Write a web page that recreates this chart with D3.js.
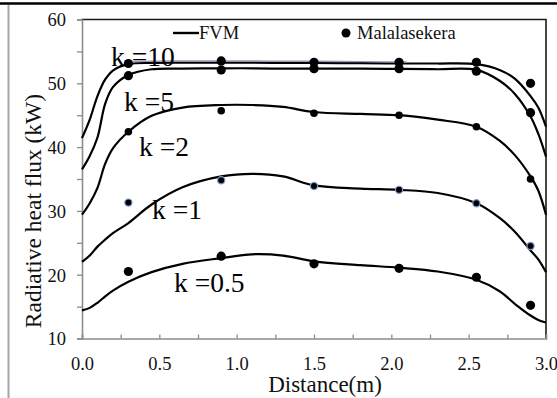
<!DOCTYPE html>
<html>
<head>
<meta charset="utf-8">
<script src="https://cdn.jsdelivr.net/npm/d3@7"></script>
<style>
  html, body { margin: 0; padding: 0; background: #fff; }
  svg { display: block; font-family: "Liberation Serif", "Times New Roman", serif; }
</style>
</head>
<body>
<svg id="chart" width="557" height="398"></svg>
<script>
// FVM curves, sampled on a shared distance grid (m)
const fvmX = [0, 0.05, 0.1, 0.15, 0.2, 0.3, 0.45, 0.65, 0.9, 1.1, 1.3, 1.5, 1.8, 2.05, 2.3, 2.55, 2.7, 2.8, 2.9, 2.95, 3.0];
const fvmK10 = [41.4, 44.3, 48.0, 50.6, 52.0, 53.0, 53.2, 53.25, 53.25, 53.25, 53.2, 53.2, 53.15, 53.1, 53.1, 53.0, 52.1, 50.7, 48.0, 46.2, 43.2];
const fvmK5 = [36.5, 38.6, 41.5, 46.8, 49.4, 51.3, 52.2, 52.3, 52.35, 52.35, 52.3, 52.3, 52.3, 52.25, 52.2, 52.1, 50.4, 48.3, 44.8, 42.1, 38.5];
const fvmK2 = [29.4, 31.2, 33.6, 37.4, 39.8, 42.4, 44.9, 46.2, 46.6, 46.6, 46.3, 45.5, 45.2, 45.0, 44.3, 43.2, 41.0, 38.7, 35.4, 33.2, 29.4];
const fvmK1 = [22.0, 23.0, 24.4, 25.5, 26.5, 28.1, 31.0, 33.7, 35.4, 35.8, 35.4, 34.0, 33.5, 33.3, 32.8, 31.2, 28.9, 26.7, 23.8, 22.4, 20.4];
const fvmK05 = [14.4, 14.8, 15.6, 16.6, 17.5, 18.9, 20.4, 21.7, 22.6, 23.2, 23.0, 22.1, 21.5, 21.1, 20.5, 19.2, 17.4, 15.4, 13.6, 12.9, 12.5];

// Malalasekera reference points
const malX = [0.3, 0.9, 1.5, 2.05, 2.55, 2.9];
const malK10 = [53.1, 53.5, 53.3, 53.3, 53.3, 50.0];
const malK5 = [51.2, 52.1, 52.3, 52.3, 51.9, 45.4];
const malK2 = [42.4, 45.7, 45.3, 45.0, 43.2, 35.0];
const malK1 = [31.3, 34.8, 33.9, 33.3, 31.2, 24.5];
const malK05 = [20.5, 22.9, 21.7, 21.0, 19.6, 15.2];

const kLabels = ['k =10', 'k =5', 'k =2', 'k =1', 'k =0.5'];
const xTicks = [0, 0.5, 1.0, 1.5, 2.0, 2.5, 3.0];
const yTicks = [10, 20, 30, 40, 50, 60];

const series = [
  { name: kLabels[0], fvm: fvmK10, mal: malK10, r: 4.6, dotStroke: 'none', lx: 111, ly: 66 },
  { name: kLabels[1], fvm: fvmK5, mal: malK5, r: 4.6, dotStroke: 'none', lx: 124, ly: 111 },
  { name: kLabels[2], fvm: fvmK2, mal: malK2, r: 3.8, dotStroke: 'none', lx: 139, ly: 156 },
  { name: kLabels[3], fvm: fvmK1, mal: malK1, r: 3.6, dotStroke: '#7f9ccc', lx: 152, ly: 219 },
  { name: kLabels[4], fvm: fvmK05, mal: malK05, r: 4.6, dotStroke: 'none', lx: 174, ly: 292 }
];

const svg = d3.select('#chart');
const margin = { left: 82, right: 11, top: 19.5, bottom: 59.5 };
const W = 557, H = 398;

const x = d3.scaleLinear().domain([0, 3]).range([margin.left, W - margin.right]);
const y = d3.scaleLinear().domain([10, 60]).range([H - margin.bottom, margin.top]);

// outer decorations of the figure
svg.append('line')
  .attr('x1', 0).attr('x2', W).attr('y1', 3.5).attr('y2', 3.5)
  .attr('stroke', '#000').attr('stroke-width', 2.5);
svg.append('line')
  .attr('x1', 8.5).attr('x2', 8.5).attr('y1', 5).attr('y2', H)
  .attr('stroke', '#a6a6a6').attr('stroke-width', 2);

// plot frame: top and right
svg.append('path')
  .attr('d', `M${x(0) - 1},${y(60)}H${x(3)}V${y(10)}`)
  .attr('fill', 'none').attr('stroke', '#1a1a1a').attr('stroke-width', 1.6);

// y axis
const yAxis = d3.axisLeft(y).tickValues(d3.range(10, 61, 5)).tickSize(5)
  .tickFormat(d => yTicks.includes(d) ? d : '');
const gy = svg.append('g').attr('transform', `translate(${x(0)},0)`).call(yAxis);
gy.select('.domain').attr('stroke', '#8c8c8c').attr('stroke-width', 1.6);
gy.selectAll('.tick line').attr('stroke', '#8c8c8c').attr('stroke-width', 1.3);
gy.selectAll('.tick text')
  .attr('x', -16).attr('dy', '0.35em')
  .attr('font-family', '"Liberation Serif", serif').attr('font-size', 18.5).attr('fill', '#111');

// x axis, ticks pointing inward
const xAxis = d3.axisBottom(x).tickValues(d3.range(0, 3.01, 0.25)).tickSize(-4)
  .tickFormat(d => xTicks.some(t => Math.abs(t - d) < 1e-9) ? d3.format('.1f')(d) : '');
const gx = svg.append('g').attr('transform', `translate(0,${y(10)})`).call(xAxis);
gx.select('.domain').attr('stroke', '#8c8c8c').attr('stroke-width', 1.6);
gx.selectAll('.tick line').attr('stroke', '#8c8c8c').attr('stroke-width', 1.3);
gx.selectAll('.tick text')
  .attr('y', 18).attr('dy', '0.71em')
  .attr('font-family', '"Liberation Serif", serif').attr('font-size', 18.5).attr('fill', '#111');

// axis titles
svg.append('text')
  .attr('transform', `translate(41,211) rotate(-90)`)
  .attr('text-anchor', 'middle').attr('font-size', 23.5).attr('fill', '#111')
  .text('Radiative heat flux (kW)');
svg.append('text')
  .attr('x', 325).attr('y', 392)
  .attr('text-anchor', 'middle').attr('font-size', 23).attr('fill', '#111')
  .text('Distance(m)');

// FVM lines
const line = d3.line()
  .x((d, i) => x(fvmX[i]))
  .y(d => y(d))
  .curve(d3.curveCatmullRom.alpha(0.5));

const gLines = svg.append('g');
series.forEach(s => {
  gLines.append('path')
    .attr('d', line(s.fvm))
    .attr('fill', 'none').attr('stroke', '#000').attr('stroke-width', 2.2);
});

// faint lavender trace along the flat part of k=10
gLines.append('clipPath').attr('id', 'flat')
  .append('rect').attr('x', x(0.3)).attr('y', 0).attr('width', x(2.1) - x(0.3)).attr('height', H);
gLines.append('path')
  .attr('d', line(fvmK10))
  .attr('transform', 'translate(0,-1.6)')
  .attr('clip-path', 'url(#flat)')
  .attr('fill', 'none').attr('stroke', '#9e92bd').attr('stroke-width', 1.4);

// Malalasekera points
const gDots = svg.append('g');
series.forEach(s => {
  gDots.selectAll(null)
    .data(s.mal)
    .enter().append('circle')
    .attr('cx', (d, i) => x(malX[i]))
    .attr('cy', d => y(d))
    .attr('r', s.r)
    .attr('fill', '#000')
    .attr('stroke', s.dotStroke)
    .attr('stroke-width', 1.2);
});

// k labels
svg.append('g').selectAll('text')
  .data(series)
  .enter().append('text')
  .attr('x', d => d.lx).attr('y', d => d.ly)
  .attr('font-size', 27.5).attr('fill', '#000')
  .text(d => d.name);

// legend
const lg = svg.append('g');
lg.append('line')
  .attr('x1', 173).attr('x2', 199).attr('y1', 33).attr('y2', 33)
  .attr('stroke', '#000').attr('stroke-width', 2.4);
lg.append('text').attr('x', 199).attr('y', 39)
  .attr('font-size', 18.5).attr('fill', '#111').text('FVM');
lg.append('circle').attr('cx', 346).attr('cy', 33).attr('r', 4.5).attr('fill', '#000');
lg.append('text').attr('x', 357).attr('y', 39)
  .attr('font-size', 18.5).attr('fill', '#111').text('Malalasekera');
</script>
</body>
</html>
